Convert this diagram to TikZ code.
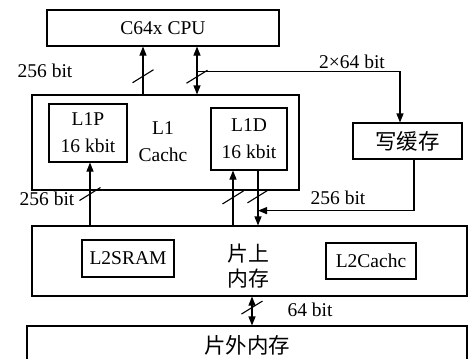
\documentclass[tikz,border=0pt]{standalone}
\usepackage{fontspec}
\setmainfont{Liberation Serif}
\newfontfamily\cjk[Scale=1.1]{Noto Sans CJK SC}
\usetikzlibrary{arrows.meta,positioning,calc}

\begin{document}
\begin{tikzpicture}[
  x=1pt, y=-1pt, line width=1.1pt,
  every node/.style={font=\fontsize{19.5}{27}\selectfont, inner sep=0pt},
  box/.style={draw, align=center},
  arr/.style={-{Triangle[length=9pt,width=7pt]}},
  darr/.style={{Triangle[length=9pt,width=7pt]}-{Triangle[length=9pt,width=7pt]}}
]
\useasboundingbox (0,0) rectangle (475,359);

% blocks
\node[box, minimum width=232, minimum height=36] (cpu) at (163,28) {C64x CPU};
\node[box, minimum width=267, minimum height=95] (l1) at (165.5,142.5) {};
\node[align=center] (l1txt) at (163,142) {L1\\Cachc};
\node[box, minimum width=78, minimum height=58] (l1p) at (88,133) {L1P\\16 kbit};
\node[box, minimum width=76, minimum height=62] (l1d) at (249,139) {L1D\\16 kbit};
\node[box, minimum width=109, minimum height=36] (wb) at (407.5,141) {\cjk 写缓存};
\node[box, minimum width=435, minimum height=70] (l2) at (249.5,261) {};
\node[box, minimum width=92, minimum height=37] (l2sram) at (128,258.5) {L2SRAM};
\node[align=center, font=\fontsize{19}{25}\selectfont\cjk] (l2txt) at (248,266) {片上\\内存};
\node[box, minimum width=90, minimum height=36] (l2cache) at (371,261) {L2Cachc};
\node[box, minimum width=440, minimum height=38] (ext) at (247,345) {\cjk 片外内存};

% buses
\draw[arr] ([xshift=-22.5]l1.north) -- coordinate[pos=.38] (s1) ([xshift=-22.5]l1.north |- cpu.south);
\draw[darr] ([xshift=31.5]l1.north) -- coordinate[pos=.37] (s2) coordinate[pos=.47] (br) ([xshift=31.5]l1.north |- cpu.south);
\draw[arr] (br) -| ([xshift=-7.5]wb.north);
\draw[arr] ([xshift=2]l1p.south |- l2.north) -- coordinate[pos=.5] (s3) ([xshift=2]l1p.south);
\draw[arr] ([xshift=-16]l1d.south |- l2.north) -- coordinate[pos=.51] (s4) ([xshift=-16]l1d.south);
\draw[arr] ([xshift=9]l1d.south) -- coordinate[pos=.47] (s5) coordinate[pos=.73] (m) ([xshift=9]l1d.south |- l2.north);
\draw[arr] ([xshift=6.5]wb.south) |- (m);
\draw[darr] ([xshift=2.5]l2.south) -- coordinate[pos=.38] (s6) ([xshift=2.5]l2.south |- ext.north);

% bus width marks
\foreach \s in {s1,s2,s3,s4,s5,s6}
  \draw (\s) +(-10.5,6.5) -- +(10.5,-6.5);

% labels
\node[anchor=base] (lb1) at (45,77) {256 bit};
\node[anchor=base] (lb2) at (352,68) {2×64 bit};
\node[anchor=base] (lb3) at (47,205) {256 bit};
\node[anchor=base] (lb4) at (338,204) {256 bit};
\node[anchor=base] (lb5) at (310,316) {64 bit};
\end{tikzpicture}
\end{document}
